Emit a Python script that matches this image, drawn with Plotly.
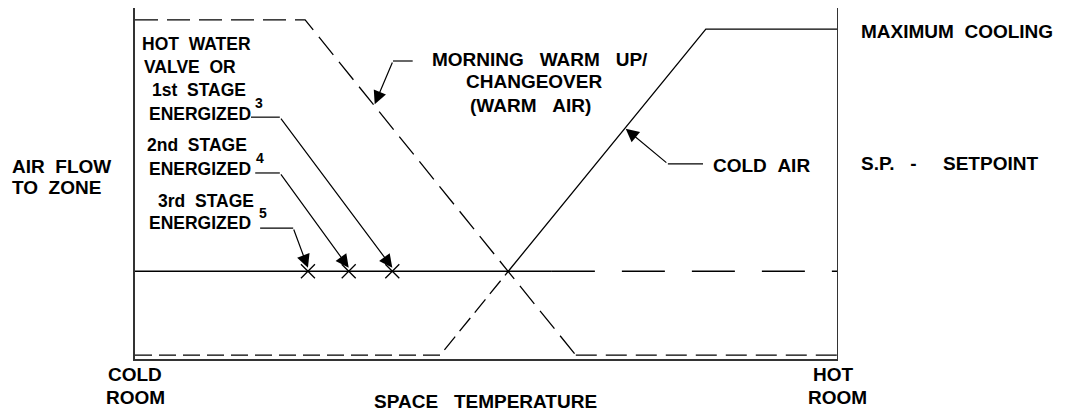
import plotly.graph_objects as go

# ---- data (space temperature 0=cold room .. 100=hot room, air flow 0..100) ----
warm_high_temp = [0, 24.2, 62.7]
warm_high_flow = [96.6, 96.6, 1.1]
warm_low_temp = [62.7, 100]
warm_low_flow = [1.1, 1.1]

cold_low_temp = [0, 43.4, 53.1]
cold_low_flow = [1.1, 1.1, 25.0]
cold_high_temp = [53.1, 81.2, 100]
cold_high_flow = [25.0, 94.0, 94.0]

sp_solid_temp = [0, 59.3]
sp_dash_temp = [59.3, 100]
sp_flow = 25.0

stage_temp = [24.6, 30.4, 36.6]      # 3rd, 2nd, 1st stage
stage_flow = [25.0, 25.0, 25.0]

# leader lines: (x_start, x_corner, y) in chart units, plus arrow tip
leaders = [
    dict(x0=16.5, x1=20.6, y=68.9, tx=stage_temp[2], ty=26.0),   # 1st stage
    dict(x0=17.1, x1=20.6, y=53.0, tx=stage_temp[1], ty=26.0),   # 2nd stage
    dict(x0=17.8, x1=22.5, y=37.3, tx=stage_temp[0], ty=26.0),   # 3rd stage
    dict(x0=39.5, x1=36.7, y=84.9, tx=34.1, ty=72.6),            # morning warm up
    dict(x0=80.8, x1=75.8, y=55.6, tx=69.8, ty=65.6),            # cold air
]

# ---- layout geometry (pixels) ----
W, H = 1065, 412
L, R, T, B = 135, 227, 8, 53
PW, PH = W - L - R, H - T - B


def PX(px):
    return (px - L) / PW


def PY(py):
    return (H - B - py) / PH


FONT = "Liberation Sans, Arial, sans-serif"
BLACK = "#000000"

fig = go.Figure()


def line(x, y, dash=None):
    ln = dict(color=BLACK, width=1.3)
    if dash:
        ln["dash"] = dash
    fig.add_trace(go.Scatter(x=x, y=y, mode="lines", line=ln, hoverinfo="skip"))


line(warm_high_temp, warm_high_flow, "23px,9px")
line(warm_low_temp, warm_low_flow, "21px,9px")
line(cold_low_temp, cold_low_flow, "17px,7px")
line(cold_high_temp, cold_high_flow)
line(sp_solid_temp, [sp_flow] * 2)
line(sp_dash_temp, [sp_flow] * 2, "43px,27px")

fig.add_trace(go.Scatter(x=stage_temp, y=stage_flow, mode="markers",
                         marker=dict(symbol="x-thin", size=14,
                                     line=dict(color=BLACK, width=1.3)),
                         hoverinfo="skip"))

shapes = [
    dict(type="line", xref="x", yref="y", x0=100, x1=100, y0=0, y1=100.3,
         line=dict(color="#333333", width=2)),
]
for ld in leaders:
    shapes.append(dict(type="line", xref="x", yref="y", x0=ld["x0"], x1=ld["x1"],
                       y0=ld["y"], y1=ld["y"], line=dict(color=BLACK, width=1.2)))

annotations = []
for ld in leaders:
    annotations.append(dict(x=ld["tx"], y=ld["ty"], ax=ld["x1"], ay=ld["y"],
                            xref="x", yref="y", axref="x", ayref="y",
                            text="", showarrow=True, arrowhead=2, arrowsize=2.2,
                            arrowwidth=1.2, arrowcolor=BLACK, standoff=0,
                            startstandoff=0))

NB = "\u00a0"


def label(text, px, py, anchor="center", size=19):
    annotations.append(dict(x=PX(px), y=PY(py), xref="paper", yref="paper", text=text,
                            showarrow=False, xanchor=anchor, yanchor="middle",
                            font=dict(family=FONT, size=size, color=BLACK,
                                      weight="bold")))


S2 = NB * 2
S3 = NB * 3
S5 = NB * 5
LS = 17.5
label("HOT" + S2 + "WATER", 196, 44, size=LS)
label("VALVE" + S2 + "OR", 190, 67, size=LS)
label("1st" + S2 + "STAGE", 199, 90, size=LS)
label("ENERGIZED", 200, 114, size=LS)
label("3", 259, 103, size=14)
label("2nd" + S2 + "STAGE", 197, 145, size=LS)
label("ENERGIZED", 200, 169, size=LS)
label("4", 260, 158, size=14)
label("3rd" + S2 + "STAGE", 206, 201, size=LS)
label("ENERGIZED", 200, 223, size=LS)
label("5", 263, 213, size=14)

label("MORNING" + S3 + "WARM" + S3 + "UP/", 540, 59)
label("CHANGEOVER", 534, 82)
label("(WARM" + S3 + "AIR)", 530, 105)

label("COLD" + S2 + "AIR", 711, 165, anchor="left")
label("MAXIMUM" + S2 + "COOLING", 859, 31, anchor="left")
label("S.P." + S3 + "-" + S5 + "SETPOINT", 859, 163, anchor="left")

label("AIR" + S2 + "FLOW", 10, 166, anchor="left")
label("TO" + S2 + "ZONE", 10, 188, anchor="left")

label("COLD", 135, 375)
label("ROOM", 135, 397)
label("SPACE" + S3 + "TEMPERATURE", 485, 401)
label("HOT", 833, 375)
label("ROOM", 837, 397)

fig.update_layout(
    width=W, height=H,
    margin=dict(l=L, r=R, t=T, b=B, pad=0),
    paper_bgcolor="white", plot_bgcolor="white",
    showlegend=False,
    xaxis=dict(range=[0, 100], showgrid=False, zeroline=False, showticklabels=False,
               ticks="", showline=True, linecolor="#333333", linewidth=2,
               fixedrange=True),
    yaxis=dict(range=[0, 100], showgrid=False, zeroline=False, showticklabels=False,
               ticks="", showline=True, linecolor="#333333", linewidth=2,
               fixedrange=True),
    shapes=shapes,
    annotations=annotations,
)

fig.write_html("out.html", config={"displayModeBar": False},
               post_script="document.body.style.margin='0px';document.body.style.overflow='hidden';")
